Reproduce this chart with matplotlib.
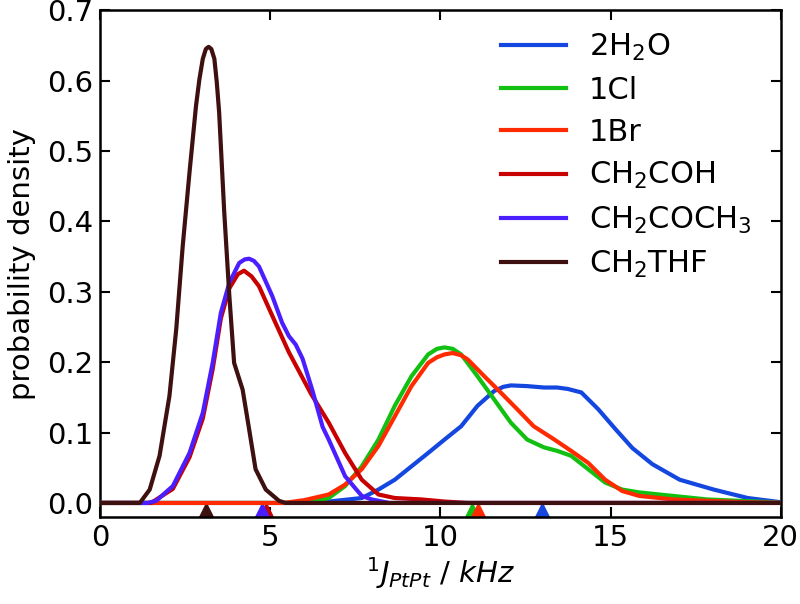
import matplotlib
matplotlib.use("Agg")
import matplotlib.pyplot as plt

labels = ["2H$_2$O", "1Cl", "1Br", "CH$_2$COH", "CH$_2$COCH$_3$", "CH$_2$THF"]
colors = ["#1446e0", "#12c012", "#ff2a00", "#c80000", "#4a1eff", "#3e1010"]

x_h2o = [0, 6.5, 6.72, 7.69, 8.18, 8.66, 9.15, 9.64, 10.12, 10.61, 11.09, 11.58, 11.85, 12.07, 12.55, 13.04,
         13.43, 13.74, 14.14, 14.64, 15.14, 15.64, 16.23, 17.03, 18.03, 19.03, 20]
y_h2o = [0, 0, 0.002, 0.007, 0.019, 0.033, 0.052, 0.071, 0.09, 0.109, 0.138, 0.159, 0.165, 0.167, 0.166, 0.164,
         0.164, 0.162, 0.157, 0.133, 0.105, 0.078, 0.055, 0.033, 0.019, 0.007, 0.001]

x_cl = [0, 6.0, 6.72, 7.2, 7.69, 8.18, 8.66, 9.15, 9.64, 9.9, 10.12, 10.36, 10.61, 11.09, 11.58, 12.07, 12.55,
        13.04, 13.43, 13.84, 14.34, 14.84, 15.34, 15.84, 16.83, 17.83, 18.8, 19.8, 20]
y_cl = [0, 0, 0.007, 0.024, 0.052, 0.09, 0.138, 0.18, 0.211, 0.219, 0.221, 0.219, 0.211, 0.18, 0.147, 0.114,
        0.09, 0.079, 0.074, 0.067, 0.048, 0.029, 0.019, 0.015, 0.01, 0.005, 0.003, 0.001, 0]

x_br = [0, 5.4, 6.0, 6.72, 7.2, 7.69, 8.18, 8.66, 9.15, 9.64, 9.9, 10.12, 10.36, 10.6, 10.8, 11.29, 11.77,
        12.26, 12.74, 13.35, 13.84, 14.34, 14.84, 15.34, 15.84, 16.83, 17.83, 19.0, 20]
y_br = [0, 0, 0.004, 0.012, 0.026, 0.048, 0.081, 0.123, 0.166, 0.199, 0.207, 0.211, 0.213, 0.21, 0.204, 0.18,
        0.157, 0.133, 0.109, 0.09, 0.074, 0.057, 0.033, 0.017, 0.01, 0.005, 0.003, 0.001, 0]

x_coh = [0, 1.5, 2.14, 2.63, 3.02, 3.31, 3.55, 3.8, 4.05, 4.23, 4.45, 4.67, 5.06, 5.55, 6.2, 6.72, 7.2,
         7.69, 8.18, 8.66, 9.44, 10.12, 10.8, 20]
y_coh = [0, 0, 0.02, 0.065, 0.12, 0.19, 0.262, 0.305, 0.325, 0.33, 0.322, 0.308, 0.266, 0.214, 0.155, 0.114,
         0.071, 0.033, 0.012, 0.007, 0.005, 0.002, 0, 0]

x_coch3 = [0, 1.4, 1.65, 2.14, 2.63, 3.02, 3.31, 3.55, 3.8, 4.09, 4.25, 4.38, 4.52, 4.67, 5.06, 5.35, 5.55,
           5.75, 5.95, 6.24, 6.54, 6.72, 7.2, 7.69, 7.98, 8.5, 20]
y_coch3 = [0, 0, 0.003, 0.024, 0.071, 0.128, 0.199, 0.27, 0.313, 0.341, 0.346, 0.347, 0.344, 0.336, 0.294,
           0.256, 0.237, 0.225, 0.205, 0.16, 0.108, 0.09, 0.038, 0.01, 0.005, 0, 0]

x_thf = [0, 1.17, 1.46, 1.75, 2.04, 2.24, 2.43, 2.63, 2.82, 2.92, 3.02, 3.11, 3.19, 3.27, 3.36, 3.43, 3.5,
         3.65, 3.8, 3.94, 4.19, 4.38, 4.57, 4.87, 5.26, 5.45, 20]
y_thf = [0, 0, 0.019, 0.067, 0.152, 0.247, 0.365, 0.47, 0.564, 0.602, 0.631, 0.645, 0.648, 0.645, 0.631,
         0.598, 0.555, 0.413, 0.294, 0.199, 0.161, 0.105, 0.048, 0.019, 0.003, 0, 0]

marker_x = [12.98, 10.93, 11.1, 4.87, 4.75, 3.12]

series_x = [x_h2o, x_cl, x_br, x_coh, x_coch3, x_thf]
series_y = [y_h2o, y_cl, y_br, y_coh, y_coch3, y_thf]

plt.rcParams['mathtext.fontset'] = 'dejavusans'
fig = plt.figure(figsize=(8, 6.04), dpi=100)
ax = fig.add_axes([0.125, 0.144, 0.851, 0.839])

for xs, ys, c, lab in zip(series_x, series_y, colors, labels):
    ax.plot(xs, ys, color=c, lw=3, label=lab, solid_joinstyle='round', zorder=3)

for mx, c in zip(marker_x, colors):
    ax.plot([mx], [-0.0095], marker='^', color=c, markersize=10, ls='none', zorder=2, clip_on=False)

ax.set_xlim(0, 20)
ax.set_ylim(-0.02, 0.7)
ax.set_xticks([0, 5, 10, 15, 20])
ax.set_yticks([0.0, 0.1, 0.2, 0.3, 0.4, 0.5, 0.6, 0.7])
ax.set_yticklabels([f"{v:.1f}" for v in [0.0, 0.1, 0.2, 0.3, 0.4, 0.5, 0.6, 0.7]])
ax.tick_params(direction='in', top=True, right=True, length=7, width=1.5, labelsize=21, pad=5)
for sp in ax.spines.values():
    sp.set_linewidth(1.8)

ax.set_xlabel(r"$^1J_{PtPt}$ / $kHz$", fontsize=21, labelpad=2)
ax.set_ylabel("probability density", fontsize=21, labelpad=8)

ax.legend(loc='upper right', frameon=False, fontsize=22, handlelength=2.1,
          labelspacing=0.43, handletextpad=0.75, bbox_to_anchor=(0.997, 1.012))

fig.savefig("out.png", dpi=100)
